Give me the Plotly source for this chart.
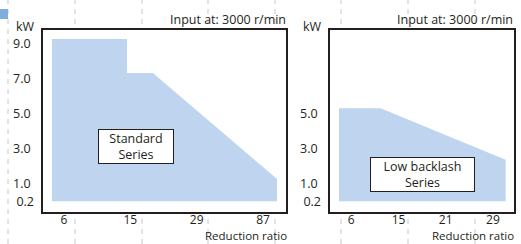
import plotly.graph_objects as go

# ---------------- data ----------------
# x positions are schematic positions on the reduction-ratio axis (tick i at i)
std_ticks = ["6", "15", "29", "87"]
std_x = [-0.18, 0.95, 0.95, 1.34, 3.21]
std_kw = [9.28, 9.28, 7.34, 7.34, 1.27]

lb_ticks = ["6", "15", "21", "29"]
lb_x = [-0.26, 0.62, 3.27]
lb_kw = [5.32, 5.32, 2.38]

kw_ticks = [1.0, 3.0, 5.0, 7.0, 9.0]
kw_ticks_right = [1.0, 3.0, 5.0]
kw_min_tick = [0.2]

W, H = 521, 244
FONT = "Open Sans"
FS = 12.5
TXT = "#231f20"
FILL = "#bfd4ee"
FRAME = "#231f20"
YRANGE = [-0.612, 9.794]

fig = go.Figure()
fig.add_trace(go.Scatter(x=std_x, y=std_kw, fill="tozeroy", mode="lines",
                         line=dict(width=0, color=FILL), fillcolor=FILL,
                         xaxis="x", yaxis="y", hoverinfo="skip", showlegend=False))
fig.add_trace(go.Scatter(x=lb_x, y=lb_kw, fill="tozeroy", mode="lines",
                         line=dict(width=0, color=FILL), fillcolor=FILL,
                         xaxis="x2", yaxis="y2", hoverinfo="skip", showlegend=False))
# empty traces so the overlay axes carrying the 0.2 label are drawn
fig.add_trace(go.Scatter(x=[], y=[], xaxis="x", yaxis="y3", mode="lines",
                         hoverinfo="skip", showlegend=False))
fig.add_trace(go.Scatter(x=[], y=[], xaxis="x2", yaxis="y4", mode="lines",
                         hoverinfo="skip", showlegend=False))

def px(x):
    return x / W

def py(y):
    return 1 - y / H

common_ax = dict(showline=True, mirror=True, linecolor=FRAME, linewidth=1.6,
                 showgrid=False, zeroline=False, ticks="", fixedrange=True)
yfont = dict(family=FONT, size=FS, color=TXT)
xfont = dict(family=FONT, size=12, color=TXT)

def fmt(vals):
    return [f"{v:.1f}" for v in vals]

ydom = [py(212), py(30)]
fig.update_layout(
    width=W, height=H, margin=dict(l=0, r=0, t=0, b=0),
    paper_bgcolor="white", plot_bgcolor="white",
    xaxis=dict(domain=[px(43), px(286)], range=[-0.315, 3.345],
               tickvals=list(range(len(std_ticks))), ticktext=std_ticks,
               ticklabelstandoff=-4, tickfont=xfont, anchor="y", **common_ax),
    yaxis=dict(domain=ydom, range=YRANGE, tickvals=kw_ticks,
               ticktext=fmt(kw_ticks),
               ticklabelstandoff=8, tickfont=yfont, anchor="x", **common_ax),
    yaxis3=dict(domain=ydom, range=YRANGE, tickvals=kw_min_tick,
                ticktext=fmt(kw_min_tick), overlaying="y", anchor="x", side="left",
                showline=False, showgrid=False, zeroline=False, ticks="",
                ticklabelstandoff=8, ticklabelshift=4, tickfont=yfont,
                fixedrange=True),
    xaxis2=dict(domain=[px(330), px(514)], range=[-0.451, 3.447],
                tickvals=list(range(len(lb_ticks))), ticktext=lb_ticks,
                ticklabelstandoff=-4, tickfont=xfont, anchor="y2", **common_ax),
    yaxis2=dict(domain=ydom, range=YRANGE, tickvals=kw_ticks_right,
                ticktext=fmt(kw_ticks_right),
                ticklabelstandoff=8, tickfont=yfont, anchor="x2", **common_ax),
    yaxis4=dict(domain=ydom, range=YRANGE, tickvals=kw_min_tick,
                ticktext=fmt(kw_min_tick), overlaying="y2", anchor="x2", side="left",
                showline=False, showgrid=False, zeroline=False, ticks="",
                ticklabelstandoff=8, ticklabelshift=4, tickfont=yfont,
                fixedrange=True),
)

shapes = []
# decorative page-guide dashed lines
for gx in [8, 75, 142, 208, 275, 341, 408, 475]:
    shapes.append(dict(type="line", xref="paper", yref="paper",
                       x0=px(gx), x1=px(gx), y0=0, y1=1, layer="below",
                       line=dict(color="#c8c8c8", width=1, dash="5px,5px")))
# white plot areas covering the guides
for xa, ya in [("x", "y"), ("x2", "y2")]:
    shapes.append(dict(type="rect", xref=f"{xa} domain", yref=f"{ya} domain",
                       x0=0, x1=1, y0=0, y1=1, layer="below",
                       fillcolor="white", line=dict(width=0)))
# small blue marker at top-left
shapes.append(dict(type="rect", xref="paper", yref="paper",
                   x0=px(0), x1=px(8), y0=py(19), y1=py(9),
                   fillcolor="#7eaee0", line=dict(width=0), layer="above"))
fig.update_layout(shapes=shapes)

f = dict(family=FONT, size=FS, color=TXT)
fr = dict(family=FONT, size=11.5, color=TXT)
ann = []
ann.append(dict(text="kW", x=px(25), y=py(27), xref="paper", yref="paper",
                showarrow=False, font=f, xanchor="center", yanchor="middle"))
ann.append(dict(text="kW", x=px(312), y=py(27), xref="paper", yref="paper",
                showarrow=False, font=f, xanchor="center", yanchor="middle"))
for right in [288, 515]:
    ann.append(dict(text="Input at: 3000 r/min", x=px(right), y=py(20),
                    xref="paper", yref="paper", showarrow=False, font=f,
                    xanchor="right", yanchor="middle"))
    ann.append(dict(text="Reduction ratio", x=px(right), y=0,
                    xref="paper", yref="paper", showarrow=False, font=fr,
                    xanchor="right", yanchor="bottom", borderpad=0))
ann.append(dict(text="Standard<br>Series", x=0.383, y=0.36,
                xref="x domain", yref="y domain", showarrow=False, font=f,
                xanchor="center", yanchor="middle",
                bgcolor="white", bordercolor=FRAME, borderwidth=1, borderpad=0,
                width=74, height=33, align="center"))
ann.append(dict(text="Low backlash<br>Series", x=0.503, y=0.206,
                xref="x2 domain", yref="y2 domain", showarrow=False, font=f,
                xanchor="center", yanchor="middle",
                bgcolor="white", bordercolor=FRAME, borderwidth=1, borderpad=0,
                width=103, height=33, align="center"))
fig.update_layout(annotations=ann)

fig.write_html("out.html", config={"displayModeBar": False},
               post_script="document.body.style.margin='0';document.body.style.padding='0';")
